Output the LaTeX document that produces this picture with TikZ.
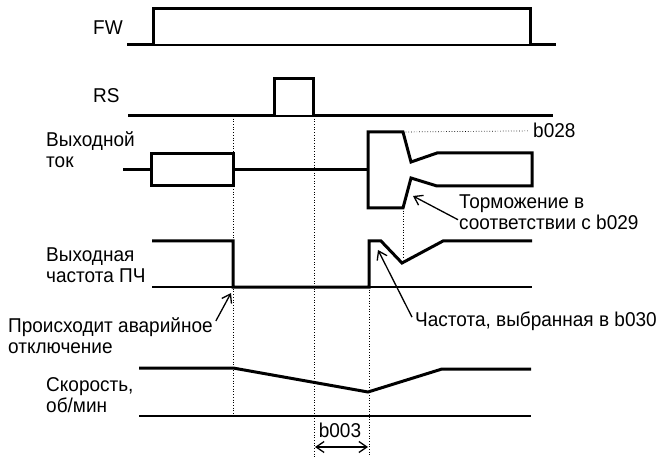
\documentclass[tikz,border=0pt]{standalone}
\usepackage{fontspec}
\setmainfont{Liberation Sans}[FakeStretch=0.95]
\usetikzlibrary{arrows.meta,positioning}

\begin{document}
\begin{tikzpicture}[x=1pt,y=-1pt,every node/.style={font=\fontsize{20}{21}\selectfont,inner sep=0pt,align=left},
  sig/.style={line width=3pt,line join=miter},
  zero/.style={line width=1.3pt},
  guide/.style={line width=0.7pt,dotted},
  note/.style={line width=1.3pt,-{Straight Barb[length=8pt,width=11pt]}}]
\useasboundingbox (0,0) rectangle (656,457);
\node[anchor=base west] (fw) at (93,35) {FW};
\node[anchor=base west] (rs) at (93,103) {RS};
\node[anchor=base west] (cur) at (46,168) {Выходной\\ток};
\node[anchor=base west] (frq) at (46,283) {Выходная\\частота ПЧ};
\node[anchor=base west] (trip) at (8,353) {Происходит аварийное\\отключение};
\node[anchor=base west] (spd) at (46,412) {Скорость,\\об/мин};
\node[anchor=base west] (lim) at (533,138) {b028};
\node[anchor=base west] (brake) at (459,230) {Торможение в\\соответствии с b029};
\node[anchor=base west] (fsel) at (415,326) {Частота, выбранная в b030};
\node[anchor=base] (dly) at (340,437) {b003};
\draw[guide] (233,116) -- (233,416);
\draw[guide] (314,116) -- (314,457);
\draw[guide] (369,287) -- (369,457);
\draw[guide] (403,208) -- (403,258);
\draw[guide] (403,132) -- ([xshift=-4pt]lim.west);
\draw[zero] (153,45) -- (530,45);
\draw[sig] (127,45) -- (153,45) -- (153,9) -- (530,9) -- (530,45) -- (556,45);
\draw[zero] (274,116) -- (313,116);
\draw[sig] (128,116) -- (274,116) -- (274,79) -- (313,79) -- (313,116) -- (553,116);
\draw[sig] (123,170) -- (151,170) (233,170) -- (368,170);
\draw[sig] (151,154) rectangle (233,186);
\draw[sig] (403,132) -- (368,132) -- (368,208) -- (403,208) -- (411,178) -- (437,186) -- (532,186)
  -- (532,153) -- (437,153) -- (411,162) -- cycle;
\draw[zero] (152,287) -- (532,287);
\draw[sig] (152,241) -- (233,241) -- (233,287) -- (369,287) -- (369,241) -- (381,241) -- (402,263)
  -- (443,241) -- (532,241);
\draw[line width=1.6pt] (139,416) -- (531,416);
\draw[sig] (139,368) -- (233,368) -- (368,392) -- (442,369) -- (531,369);
\coordinate (tripat) at (231,293);
\coordinate (brakeat) at (413,196);
\coordinate (fselat) at (378,250);
\coordinate (d2) at (315,447);
\coordinate (d3) at (368,447);
\draw[note] ([shift={(3pt,-4pt)}]trip.north east) -- (tripat);
\draw[note] ([shift={(-1pt,-7pt)}]brake.west) -- (brakeat);
\draw[note] ([shift={(-3pt,-6pt)}]fsel.north west) -- (fselat);
\draw[note,{Straight Barb[length=8pt,width=11pt]}-{Straight Barb[length=8pt,width=11pt]}] (d2) -- (d3);
\end{tikzpicture}
\end{document}
